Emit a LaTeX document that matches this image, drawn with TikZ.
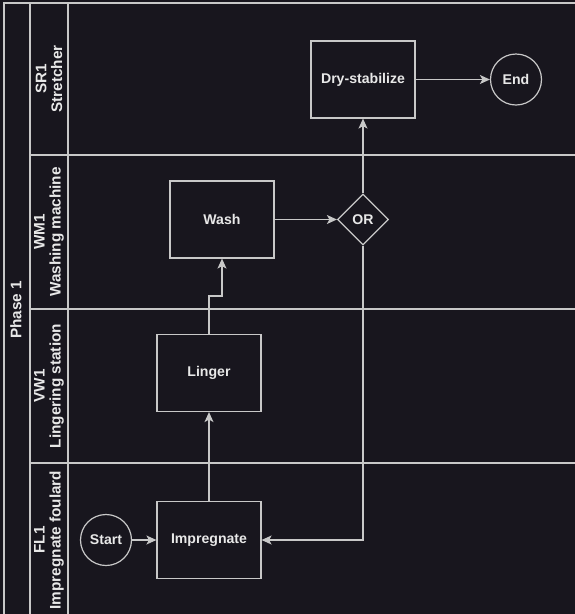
\documentclass[tikz,border=0pt]{standalone}
\usepackage{fontspec}
\setmainfont{Liberation Sans}
\usetikzlibrary{arrows.meta,shapes.geometric}
\definecolor{bg}{HTML}{18161E}
\definecolor{ln}{HTML}{C8C8C8}
\definecolor{tx}{HTML}{E8E8E8}
\begin{document}
\begin{tikzpicture}[x=1pt,y=-1pt,
  pool/.style={draw=ln, line width=1.2pt},
  lanetitle/.style={rotate=90, align=center, text=tx, inner sep=0,
    font=\bfseries\fontsize{15.3}{15.8}\selectfont},
  box/.style={draw=ln, line width=1.2pt, fill=bg, text=tx, inner sep=0,
    minimum width=104pt, minimum height=77pt,
    font=\bfseries\fontsize{14.1}{15}\selectfont},
  terminal/.style={circle, draw=ln, line width=1.2pt, fill=bg, text=tx,
    inner sep=0, minimum size=51pt, font=\bfseries\fontsize{14.1}{15}\selectfont},
  gate/.style={diamond, aspect=1, draw=ln, line width=1.2pt, fill=bg, text=tx,
    inner sep=0, minimum width=51pt, minimum height=51pt,
    font=\bfseries\fontsize{14.1}{15}\selectfont},
  flow/.style={draw=ln, line width=1.2pt,
    -{Stealth[length=10pt,width=9pt,inset=2.5pt]}}
]
% canvas
\fill[bg] (0,0) rectangle (575,614);
\useasboundingbox (0,0) rectangle (575,614);
\clip (0,0) rectangle (575,614);

% pool frame and lanes
\draw[pool] (4,625) -- (4,3) -- (585,3);
\draw[pool] (30,3) -- (30,625);
\draw[pool] (68,3) -- (68,625);
\draw[pool] (30,155) -- (585,155);
\draw[pool] (30,309) -- (585,309);
\draw[pool] (30,463) -- (585,463);

% titles
\node[lanetitle] (phase) at (16,310) {Phase 1};
\node[lanetitle] (sr1) at (49,79) {SR1\\Stretcher};
\node[lanetitle] (wm1) at (49,232) {WM1\\Washing machine};
\node[lanetitle] (vw1) at (49,386) {VW1\\Lingering station};
\node[lanetitle] (fl1) at (49,540) {FL1\\Impregnate foulard};

% steps
\node[terminal] (start) at (106,540) {Start};
\node[box] (imp) at (209,540) {Impregnate};
\node[box] (linger) at (209,373) {Linger};
\node[box] (wash) at (222,219.5) {Wash};
\node[gate] (or) at (363,219.5) {OR};
\node[box] (dry) at (363,79.5) {Dry-stabilize};
\node[terminal] (end) at (516,79.5) {End};

% connectors
\draw[flow] (start) -- (imp);
\draw[flow] (imp) -- (linger);
\draw[flow] (linger.north) -- ++(0,-38) -| (wash.south);
\draw[flow] (wash) -- (or);
\draw[flow] (or) -- (dry);
\draw[flow] (or.south) |- (imp.east);
\draw[flow] (dry) -- (end);
\end{tikzpicture}
\end{document}
